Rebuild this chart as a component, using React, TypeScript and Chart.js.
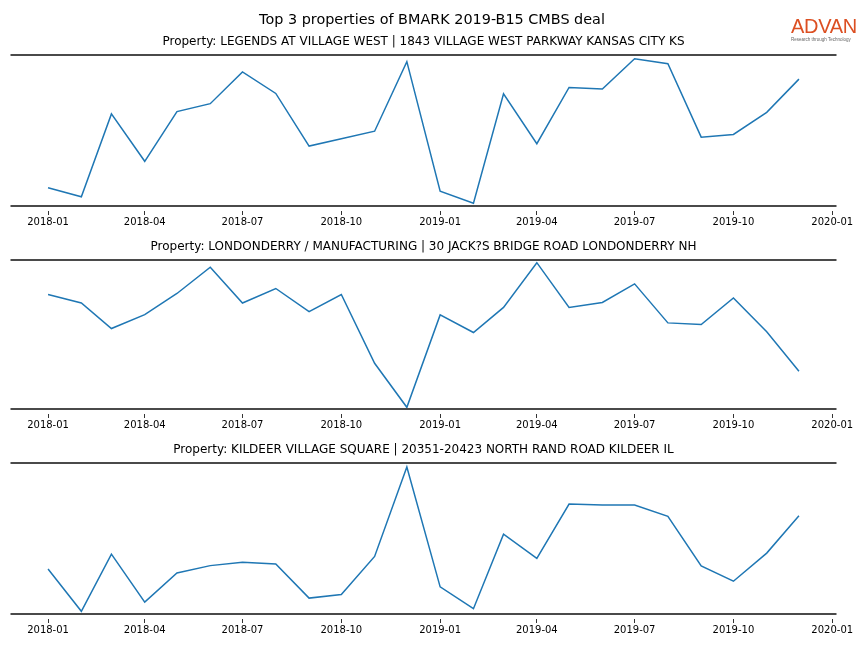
import React, { useEffect, useRef } from 'react';
import { Chart, registerables } from 'chart.js';

Chart.register(...registerables);

const mainTitle = 'Top 3 properties of BMARK 2019-B15 CMBS deal';

const months = [
  '2018-01', '2018-02', '2018-03', '2018-04', '2018-05', '2018-06',
  '2018-07', '2018-08', '2018-09', '2018-10', '2018-11', '2018-12',
  '2019-01', '2019-02', '2019-03', '2019-04', '2019-05', '2019-06',
  '2019-07', '2019-08', '2019-09', '2019-10', '2019-11', '2019-12',
];

const tickLabels = [
  '2018-01', '2018-04', '2018-07', '2018-10',
  '2019-01', '2019-04', '2019-07', '2019-10', '2020-01',
];

const propertyTitles = [
  'Property: LEGENDS AT VILLAGE WEST | 1843 VILLAGE WEST PARKWAY KANSAS CITY KS',
  'Property: LONDONDERRY / MANUFACTURING | 30 JACK?S BRIDGE ROAD LONDONDERRY NH',
  'Property: KILDEER VILLAGE SQUARE | 20351-20423 NORTH RAND ROAD KILDEER IL',
];

const legendsValues = [
  18.3, 9.3, 92.7, 45, 95, 103, 135, 113.3, 60.3, 67.7, 75.3, 145.3,
  15, 2.7, 113, 62.7, 119.3, 117.7, 148.3, 143.3, 69.3, 72, 94.3, 127.7,
];

const londonderryValues = [
  115.3, 106.7, 81, 95, 116.3, 142.7, 106.7, 121.3, 98, 115.3, 46, 1.7,
  94.7, 77, 102.3, 147.3, 102.3, 107.3, 126, 86.7, 85, 111.7, 77.7, 38,
];

const kildeerValues = [
  45.3, 2.7, 60.3, 12, 41.3, 48.7, 52, 50.3, 16, 19.7, 58, 148,
  27.3, 5.3, 80.3, 56, 110.7, 109.7, 109.7, 98.3, 48.3, 33, 61.3, 99,
];

const yMins = [0, 0, 0];
const yMaxs = [152, 150, 152];

const seriesList = [legendsValues, londonderryValues, kildeerValues];

const FONT = "'DejaVu Sans', sans-serif";

const toTime = (s: string) => {
  const [y, m] = s.split('-').map(Number);
  return Date.UTC(y, m - 1, 1);
};

const spinePlugin = {
  id: 'spines',
  afterDraw(chart: any) {
    const { ctx, chartArea } = chart;
    const { left, right, top, bottom } = chartArea;
    ctx.save();
    ctx.strokeStyle = '#4a4a4a';
    ctx.lineWidth = 2;
    ctx.beginPath();
    ctx.moveTo(left, top);
    ctx.lineTo(right, top);
    ctx.moveTo(left, bottom);
    ctx.lineTo(right, bottom);
    ctx.stroke();
    ctx.restore();
  },
};

// panel layout: canvas top and height
const panels = [
  { top: 0, height: 233, titleTop: 34.8 },
  { top: 235, height: 201, titleTop: 4.8 },
  { top: 438, height: 203, titleTop: 4.8 },
];

function Panel({ index }: { index: number }) {
  const ref = useRef<HTMLCanvasElement | null>(null);
  useEffect(() => {
    if (!ref.current) return;
    const xs = months.map(toTime);
    const first = xs[0];
    const last = xs[xs.length - 1];
    const margin = (last - first) * 0.05;
    const tickValues = tickLabels.map(toTime);
    const values = seriesList[index];

    const chart = new Chart(ref.current, {
      type: 'line',
      data: {
        datasets: [
          {
            data: xs.map((x, i) => ({ x, y: values[i] })),
            borderColor: '#1f77b4',
            borderWidth: 1.5,
            pointRadius: 0,
            tension: 0,
            fill: false,
          },
        ],
      },
      options: {
        responsive: false,
        animation: false,
        layout: { padding: { left: 10.5, right: 27.5, top: 0, bottom: 4 } },
        plugins: {
          legend: { display: false },
          tooltip: { enabled: false },
          title: {
            display: true,
            text: propertyTitles[index],
            color: '#000',
            font: { family: FONT, size: 12, weight: 'normal' },
            padding: { top: panels[index].titleTop, bottom: 5.8 },
          },
        },
        scales: {
          x: {
            type: 'linear',
            min: first - margin,
            max: last + margin,
            border: { display: false },
            grid: {
              display: true,
              drawOnChartArea: false,
              drawTicks: true,
              tickLength: 9,
              tickBorderDash: [0, 5, 4, 100],
              tickColor: '#333',
              tickWidth: 1,
            },
            afterBuildTicks: (scale: any) => {
              scale.ticks = tickValues.map((v) => ({ value: v }));
            },
            ticks: {
              autoSkip: false,
              maxRotation: 0,
              minRotation: 0,
              padding: 1,
              color: '#000',
              font: { family: FONT, size: 10 },
              callback: (v: any) => {
                const i = tickValues.indexOf(Number(v));
                return i >= 0 ? tickLabels[i] : '';
              },
            },
          },
          y: {
            display: false,
            min: yMins[index],
            max: yMaxs[index],
          },
        },
      },
      plugins: [spinePlugin],
    } as any);
    return () => chart.destroy();
  }, [index]);

  const p = panels[index];
  return (
    <canvas
      ref={ref}
      width={864}
      height={p.height}
      style={{ position: 'absolute', left: 0, top: p.top, width: 864, height: p.height, display: 'block' }}
    />
  );
}

export default function App() {
  return (
    <div style={{ position: 'absolute', left: 0, top: 0, width: 864, height: 648, background: '#fff', overflow: 'hidden' }}>
      <Panel index={0} />
      <Panel index={1} />
      <Panel index={2} />
      <div
        style={{
          position: 'absolute',
          left: 0,
          top: 10.8,
          width: 864,
          textAlign: 'center',
          fontFamily: FONT,
          fontSize: 14.4,
          lineHeight: '17px',
          color: '#000',
          whiteSpace: 'nowrap',
        }}
      >
        {mainTitle}
      </div>
      <div style={{ position: 'absolute', left: 791, top: 17, width: 72, textAlign: 'left' }}>
        <div style={{ fontFamily: "'Liberation Sans', Arial, sans-serif", fontSize: 20, lineHeight: '19px', color: '#dc4f22', letterSpacing: -0.3, fontWeight: 500 }}>
          ADVAN
        </div>
        <div style={{ fontFamily: "'Liberation Sans', Arial, sans-serif", fontSize: 4.5, lineHeight: '6px', color: '#666', marginTop: 1, whiteSpace: 'nowrap' }}>
          Research through Technology
        </div>
      </div>
    </div>
  );
}
